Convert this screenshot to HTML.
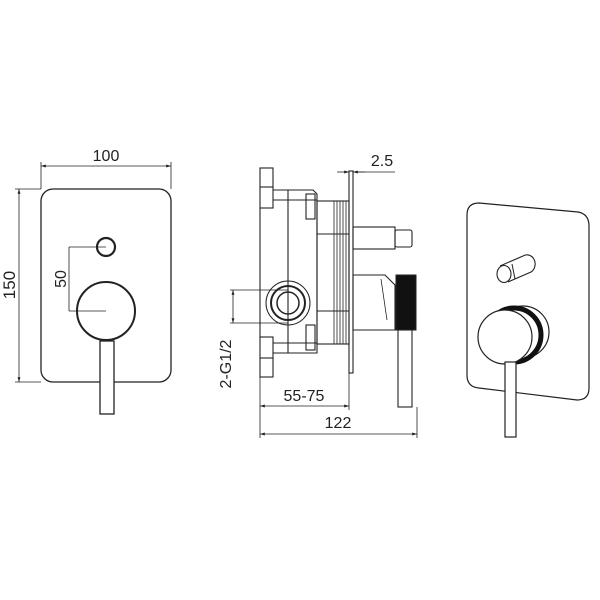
<!DOCTYPE html>
<html><head><meta charset="utf-8"><style>html,body{margin:0;padding:0;background:#fff}svg{display:block}</style></head>
<body>
<svg width="600" height="600" viewBox="0 0 600 600" xmlns="http://www.w3.org/2000/svg" font-family="Liberation Sans, sans-serif" fill="none" stroke="#222">
<defs><marker id="a" viewBox="0 0 10 10" refX="10" refY="5" markerWidth="8" markerHeight="6" orient="auto-start-reverse"><path d="M0,2 L10,5 L0,8" fill="#222" stroke="none"/></marker></defs>
<!-- Left front view -->
<rect x="41" y="189" width="130" height="193" rx="12" stroke-width="1.3"/>
<line x1="41" y1="166" x2="171" y2="166" stroke-width="0.8" marker-start="url(#a)" marker-end="url(#a)"/>
<line x1="41" y1="162" x2="41" y2="189" stroke-width="0.8"/><line x1="171" y1="162" x2="171" y2="189" stroke-width="0.8"/>
<text x="106" y="161" font-size="16" text-anchor="middle" fill="#222" stroke="none">100</text>
<line x1="19" y1="189" x2="19" y2="382" stroke-width="0.8" marker-start="url(#a)" marker-end="url(#a)"/>
<line x1="15" y1="189" x2="41" y2="189" stroke-width="0.8"/><line x1="15" y1="382" x2="41" y2="382" stroke-width="0.8"/>
<text transform="translate(15,285) rotate(-90)" font-size="17" text-anchor="middle" fill="#222" stroke="none">150</text>
<circle cx="106" cy="247" r="9" stroke-width="2.2"/>
<circle cx="106" cy="311" r="29" stroke-width="2"/>
<line x1="69" y1="247" x2="106" y2="247" stroke-width="0.8"/><line x1="69" y1="311" x2="106" y2="311" stroke-width="0.8"/>
<line x1="69" y1="247" x2="69" y2="311" stroke-width="0.8"/>
<text transform="translate(66,279) rotate(-90)" font-size="16" text-anchor="middle" fill="#222" stroke="none">50</text>
<rect x="100" y="341" width="14" height="73" stroke-width="1.3" fill="#fff"/>
<!-- Side view -->
<g stroke-width="1.1">
<rect x="260" y="168" width="13" height="40"/><line x1="260" y1="187" x2="273" y2="187"/>
<rect x="260" y="337" width="13" height="40"/><line x1="260" y1="358" x2="273" y2="358"/>
<line x1="260" y1="208" x2="260" y2="337"/>
<path d="M273 190 H313 L317 194 V353 H273"/>
<line x1="273" y1="200" x2="317" y2="200"/><line x1="273" y1="343" x2="317" y2="343"/>
<line x1="288" y1="190" x2="288" y2="353"/>
<rect x="306" y="194" width="9" height="25"/><rect x="306" y="325" width="9" height="25"/>
<rect x="317" y="201" width="32" height="143"/>
<line x1="317" y1="234" x2="349" y2="234"/><line x1="317" y1="311" x2="349" y2="311"/>
</g>
<g stroke-width="0.8">
<line x1="334" y1="201" x2="334" y2="344"/><line x1="337" y1="201" x2="337" y2="344"/><line x1="340" y1="201" x2="340" y2="344"/><line x1="343" y1="201" x2="343" y2="344"/><line x1="346" y1="201" x2="346" y2="344"/>
</g>
<rect x="349" y="171" width="4" height="202" stroke-width="1.1"/>
<rect x="353" y="227" width="42" height="22" stroke-width="1.1"/>
<rect x="395" y="230" width="17" height="17" rx="2" stroke-width="1.1"/>
<path d="M353 275 H385 L395 285 V330 H353 Z" stroke-width="1.1"/>
<path d="M381 279 L387 320" stroke-width="0.8"/>
<rect x="396" y="275" width="20" height="55" fill="#111" stroke-width="1"/>
<rect x="398" y="330" width="14" height="77" stroke-width="1.1"/>
<circle cx="288" cy="303" r="22" stroke-width="1"/>
<circle cx="288" cy="303" r="17" stroke-width="2"/>
<circle cx="288" cy="303" r="11" stroke-width="1.5"/>
<line x1="233" y1="290" x2="233" y2="323" stroke-width="0.8" marker-start="url(#a)" marker-end="url(#a)"/>
<line x1="230" y1="290" x2="288" y2="290" stroke-width="0.8"/><line x1="230" y1="323" x2="288" y2="323" stroke-width="0.8"/>
<text transform="translate(231,364) rotate(-90)" font-size="16" text-anchor="middle" fill="#222" stroke="none">2-G1/2</text>
<line x1="260" y1="377" x2="260" y2="438" stroke-width="0.8"/><line x1="349" y1="373" x2="349" y2="410" stroke-width="0.8"/><line x1="417" y1="407" x2="417" y2="438" stroke-width="0.8"/>
<line x1="260" y1="406" x2="349" y2="406" stroke-width="0.8" marker-start="url(#a)" marker-end="url(#a)"/>
<text x="304" y="401" font-size="16" text-anchor="middle" fill="#222" stroke="none">55-75</text>
<line x1="260" y1="434" x2="417" y2="434" stroke-width="0.8" marker-start="url(#a)" marker-end="url(#a)"/>
<text x="338" y="428" font-size="16" text-anchor="middle" fill="#222" stroke="none">122</text>
<line x1="337" y1="172" x2="349" y2="172" stroke-width="0.8" marker-end="url(#a)"/>
<line x1="365" y1="172" x2="353" y2="172" stroke-width="0.8" marker-end="url(#a)"/>
<line x1="353" y1="172" x2="395" y2="172" stroke-width="0.8"/>
<text x="382" y="166" font-size="16" text-anchor="middle" fill="#222" stroke="none">2.5</text>
<!-- Isometric -->
<path d="M479 203 L578 212 Q589 214 589 226 L589 388 Q589 400 577 400 L479 388 Q467 387 467 375 L467 215 Q467 203 479 203 Z" stroke-width="1.2"/>
<path d="M500 266 L523 256 A8 9 0 0 1 531 272 L508 282" stroke-width="1.1" fill="#fff"/>
<ellipse cx="504" cy="274" rx="7" ry="8.5" stroke-width="1.1" fill="#fff"/>
<line x1="512" y1="264" x2="515" y2="279" stroke-width="1"/>
<circle cx="523" cy="332" r="26" stroke-width="1.2" fill="#fff"/>
<circle cx="514" cy="335" r="27" stroke-width="5" stroke="#111" fill="#fff"/>
<circle cx="505" cy="337" r="27" stroke-width="1.2" fill="#fff"/>
<rect x="505" y="362" width="11" height="75" stroke-width="1.2" fill="#fff"/>
</svg>
</body></html>
